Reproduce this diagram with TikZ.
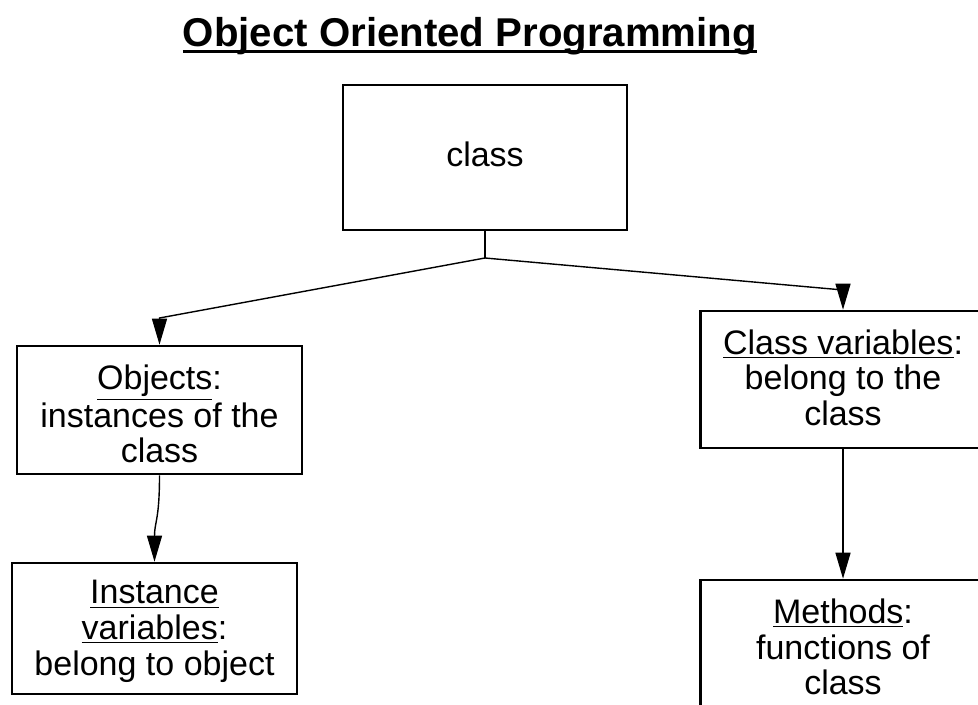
\documentclass[tikz,border=0pt]{standalone}
\usepackage{fontspec}
\setmainfont{Liberation Sans}
\usetikzlibrary{arrows.meta}
\newcommand{\titleul}[1]{\setbox0\hbox{#1}\rlap{\rule[-3pt]{\wd0}{1.3pt}}\box0}
\begin{document}
\begin{tikzpicture}[x=0.5pt,y=-0.5pt,
        >={Triangle[length=13pt,width=7.5pt]},
        box/.style={draw,line width=1.3pt,minimum width=142.5pt,inner sep=0pt,align=center,
            font=\fontsize{17pt}{17.8pt}\selectfont},
        link/.style={->,line width=0.7pt}]
        \clip (0,0) rectangle (978,705);
        \fill[white] (0,0) rectangle (978,705);
        \node[anchor=base,font=\bfseries\fontsize{20.1pt}{24pt}\selectfont] (title) at (470,47)
            {\titleul{Object Oriented Programming}};
        \node[box,minimum width=142pt,minimum height=72.5pt] (class) at (485,157.5)
            {class\rule[-3pt]{0pt}{3pt}};
        \node[box,minimum height=64pt] (objects) at (159.5,410)
            {\rule{0pt}{16.5pt}\underline{Objects}:\\instances of the\\class};
        \node[box,minimum height=65.5pt] (instance) at (154.5,628.5)
            {\rule{0pt}{14.5pt}\underline{Instance}\\\underline{variables}:\\belong to object};
        \node[box,minimum height=68.5pt] (classvar) at (843,379.5)
            {\underline{Class variables}:\\belong to the\\class\rule[-2pt]{0pt}{2pt}};
        \node[box,minimum height=67pt] (methods) at (843,647)
            {\underline{Methods}:\\functions of\\class};
        \coordinate (fork) at (485,258);
        \coordinate (objin) at (159.5,318);
        \coordinate (varin) at (843,290);
        \draw[line width=0.7pt] (class.south) -- (fork);
        \draw[link] (fork) -- (objin) -- (objects.north);
        \draw[link] (fork) -- (varin) -- (classvar.north);
        \draw[link] (objects.south) .. controls +(0,45) and +(0,-40) .. (instance.north);
        \draw[link] (classvar.south) -- (methods.north);
    \end{tikzpicture}
\end{document}
